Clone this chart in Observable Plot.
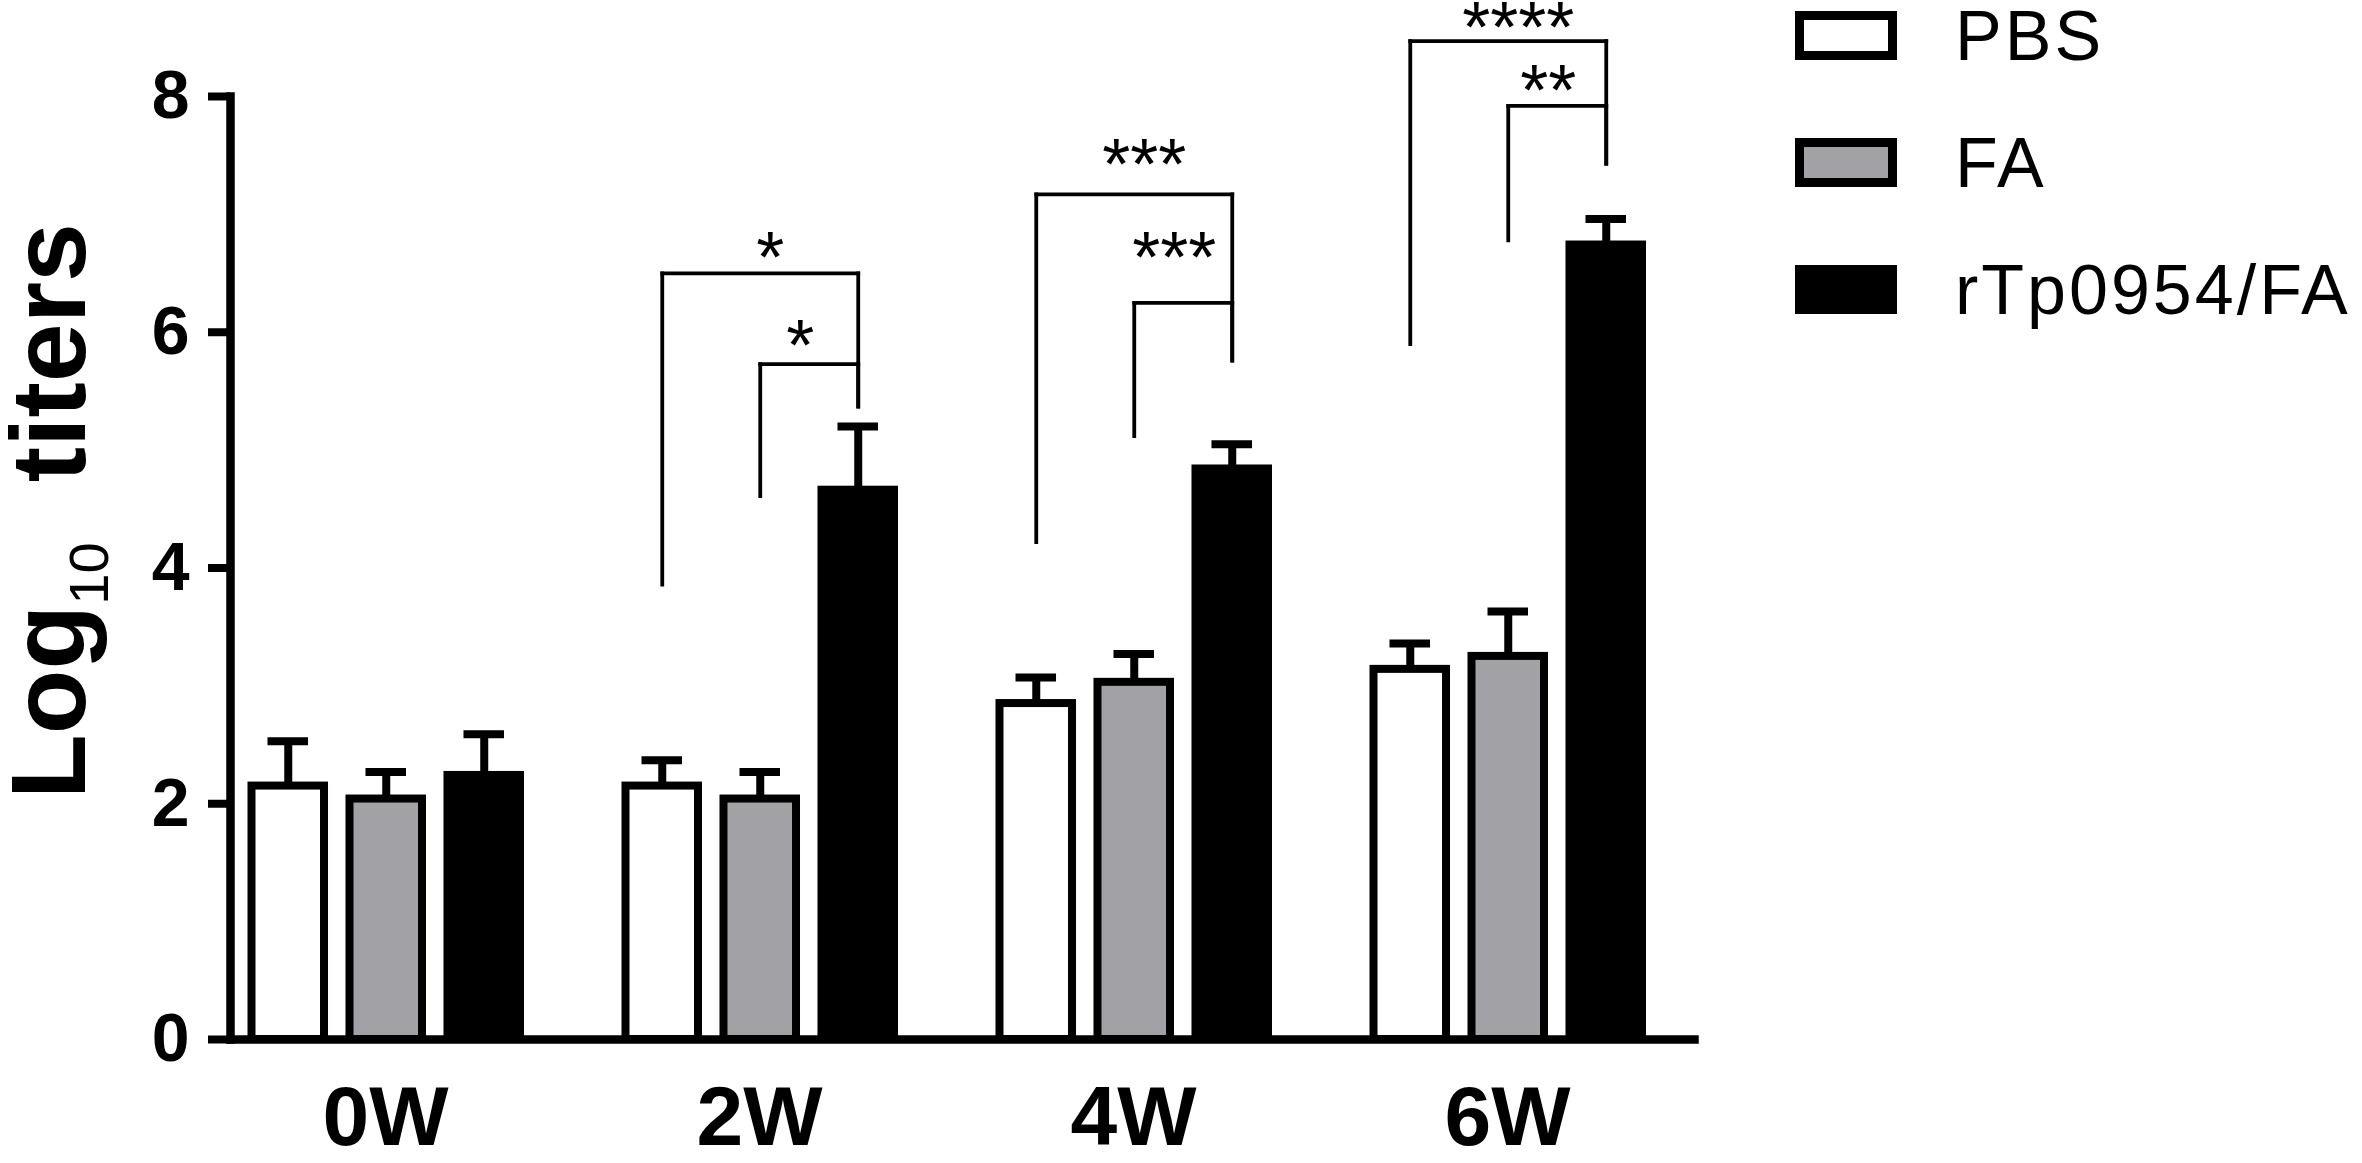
<!DOCTYPE html>
<html>
<head>
<meta charset="utf-8">
<script src="https://cdn.jsdelivr.net/npm/d3@7"></script>
<script src="https://cdn.jsdelivr.net/npm/@observablehq/plot@0.6"></script>
<style>
  html, body { margin: 0; padding: 0; background: #fff; }
  #wrap { position: relative; width: 2362px; height: 1163px; font-family: "Liberation Sans", Arial, sans-serif; }
  #chart { position: absolute; left: 0; top: 0; }
  #legend { position: absolute; left: 1795px; top: -28px; }
  .row { display: flex; align-items: center; height: 127px; }
  .box { width: 102px; height: 49px; box-sizing: border-box; border: 9px solid #000; }
  .lab { margin-left: 58px; font-size: 70px; line-height: 1; letter-spacing: 3px; color: #000; }
</style>
</head>
<body>
<div id="wrap">
  <div id="chart"></div>
  <div id="legend"></div>
</div>
<script>
// ---- data ----
const groups = ["0W", "2W", "4W", "6W"];
const series = ["PBS", "FA", "rTp0954/FA"];
const seriesColors = ["#ffffff", "#a2a2a6", "#000000"];

const pbsMean = [2.15, 2.15, 2.85, 3.14];
const pbsSd   = [0.38, 0.22, 0.22, 0.22];
const faMean  = [2.04, 2.04, 3.03, 3.25];
const faSd    = [0.23, 0.23, 0.24, 0.38];
const rtpMean = [2.24, 4.66, 4.84, 6.74];
const rtpSd   = [0.35, 0.54, 0.21, 0.22];

const yTicks = [0, 2, 4, 6, 8];

// significance brackets (values in log10 units)
const brGroup   = ["2W", "2W", "4W", "4W", "6W", "6W"];
const brFrom    = ["PBS", "FA", "PBS", "FA", "PBS", "FA"];
const brTo      = ["rTp0954/FA", "rTp0954/FA", "rTp0954/FA", "rTp0954/FA", "rTp0954/FA", "rTp0954/FA"];
const brTop     = [6.50, 5.73, 7.17, 6.25, 8.47, 7.92];
const brFromBot = [3.86, 4.61, 4.22, 5.12, 5.90, 6.78];
const brToBot   = [5.37, 5.37, 5.76, 5.76, 7.43, 7.43];
const brLabel   = ["*", "*", "***", "***", "****", "**"];
const brLabelY  = [6.58, 5.83, 7.37, 6.58, 8.53, 8.00];

const yLabel = "Log10 titers";

// ---- tables built from the arrays ----
const means = [pbsMean, faMean, rtpMean];
const sds = [pbsSd, faSd, rtpSd];
const bars = [];
groups.forEach((g, gi) => series.forEach((s, si) => {
  bars.push({group: g, series: s, mean: means[si][gi], top: means[si][gi] + sds[si][gi]});
}));

const brackets = brGroup.map((g, i) => ({
  group: g, from: brFrom[i], to: brTo[i], top: brTop[i],
  fromBot: brFromBot[i], toBot: brToBot[i], label: brLabel[i], labelY: brLabelY[i],
  outer: brFrom[i] === "PBS"
}));
const segments = [];
brackets.forEach(b => {
  segments.push({group: b.group, x1: b.from, x2: b.to, y1: b.top, y2: b.top});
  segments.push({group: b.group, x1: b.from, x2: b.from, y1: b.fromBot, y2: b.top});
  segments.push({group: b.group, x1: b.to, x2: b.to, y1: b.toBot, y2: b.top});
});

const FONT = "Liberation Sans, Arial, sans-serif";

const chart = Plot.plot({
  width: 2362,
  height: 1163,
  marginLeft: 230,
  marginRight: 668,
  marginTop: 96,
  marginBottom: 124,
  style: {fontFamily: FONT, background: "white", color: "black", overflow: "visible"},
  fx: {domain: groups, range: [230, 1694], paddingInner: 0.0856, paddingOuter: 0, round: false, axis: null, label: null},
  x: {domain: series, paddingInner: 0.26, paddingOuter: 0, insetLeft: 21.5, insetRight: 52, round: false, axis: null, label: null},
  y: {domain: [0, 8], axis: null, label: null},
  color: {domain: series, range: seriesColors},
  marks: [
    // axis lines
    Plot.frame({anchor: "left", facet: "super", stroke: "black", strokeWidth: 8.5, strokeLinecap: "square"}),
    Plot.frame({anchor: "bottom", facet: "super", stroke: "black", strokeWidth: 8.5, strokeLinecap: "square"}),
    Plot.axisY({
      ticks: yTicks, tickSize: 22, tickPadding: 19, strokeWidth: 8,
      fontSize: 68, fontWeight: "bold", label: null, tickFormat: d => String(d)
    }),
    Plot.axisFx({
      anchor: "bottom", tickSize: 0, tickPadding: 46, dx: -16,
      fontSize: 84, fontWeight: "bold", label: null
    }),
    // error bars
    Plot.ruleX(bars, {fx: "group", x: "series", y1: "mean", y2: "top", stroke: "black", strokeWidth: 8}),
    Plot.tickY(bars, {fx: "group", x: "series", y: "top", stroke: "black", strokeWidth: 8, insetLeft: 16, insetRight: 16}),
    // bars
    Plot.barY(bars, {fx: "group", x: "series", y: "mean", fill: "series", stroke: "black", strokeWidth: 8}),
    // brackets
    Plot.link(segments, {fx: "group", x1: "x1", x2: "x2", y1: "y1", y2: "y2", stroke: "black", strokeWidth: 3.8, strokeLinecap: "square"}),
    Plot.text(brackets.filter(d => d.outer), {fx: "group", x: () => "FA", y: "labelY", text: "label", fontSize: 72, lineAnchor: "bottom", dy: 18, dx: 10, fill: "black"}),
    Plot.text(brackets.filter(d => !d.outer), {fx: "group", x: "to", y: "labelY", text: "label", fontSize: 72, lineAnchor: "bottom", dy: 18, dx: -58, fill: "black"}),
    // y-axis title
    Plot.text([yLabel], {facet: "super", frameAnchor: "left", text: d => d, rotate: -90, textAnchor: "middle", lineAnchor: "bottom",
      dx: -146, dy: -57, fontSize: 106, fontWeight: "bold", fill: "black"})
  ]
});

// subscript for Log10
d3.select(chart).selectAll("text").filter(function () { return this.textContent === yLabel; }).each(function () {
  const t = d3.select(this);
  t.text(null);
  t.append("tspan").text("Log");
  t.append("tspan").attr("font-size", 56).attr("font-weight", "normal").attr("dy", 23).text("10");
  t.append("tspan").attr("dx", 60).attr("dy", -23).text("titers");
});

document.getElementById("chart").appendChild(chart);

// legend
const legend = d3.select("#legend");
series.forEach((s, i) => {
  const row = legend.append("div").attr("class", "row");
  row.append("div").attr("class", "box").style("background", seriesColors[i]);
  row.append("div").attr("class", "lab").text(s);
});
</script>
</body>
</html>
